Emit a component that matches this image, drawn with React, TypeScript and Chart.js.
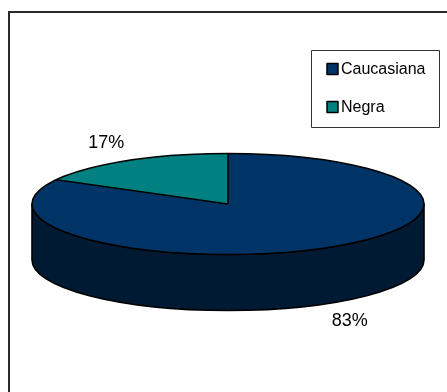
import React, { useEffect, useRef } from "react";
import { Chart, registerables } from "chart.js";

Chart.register(...registerables);

// ---- data ----
const categories: string[] = ["Caucasiana", "Negra"];
const values: number[] = [83, 17];
const topColors: string[] = ["#003366", "#008080"];
const sideColors: string[] = ["#001a33", "#004040"];

// ---- style constants ----
const RY = 50.5; // vertical semi-axis of the tilted top face
const DEPTH = 56; // thickness of the pie
const FONT = "'Liberation Sans', Arial, Helvetica, sans-serif";
const TWO_PI = Math.PI * 2;

const pie3d = {
  id: "pie3d",
  beforeDraw(chart: any) {
    const ctx = chart.ctx;
    ctx.save();
    ctx.fillStyle = "#ffffff";
    ctx.fillRect(0, 0, chart.width, chart.height);
    ctx.strokeStyle = "#2a2a2a";
    ctx.lineWidth = 2;
    ctx.strokeRect(9, 12, 800, 800);
    ctx.restore();
  },
  beforeDatasetsDraw(chart: any) {
    const ctx = chart.ctx;
    const arcs = chart.getDatasetMeta(0).data;
    if (!arcs.length) return;
    const cx = arcs[0].x;
    const cy = arcs[0].y;
    const rx = arcs[0].outerRadius;
    ctx.save();
    ctx.lineWidth = 1.6;
    ctx.strokeStyle = "#000000";
    ctx.lineJoin = "round";
    arcs.forEach((arc: any, i: number) => {
      for (let k = -1; k <= 1; k++) {
        const lo = Math.max(arc.startAngle, k * TWO_PI);
        const hi = Math.min(arc.endAngle, k * TWO_PI + Math.PI);
        if (hi > lo) {
          ctx.beginPath();
          ctx.ellipse(cx, cy, rx, RY, 0, lo, hi);
          ctx.lineTo(cx + rx * Math.cos(hi), cy + RY * Math.sin(hi) + DEPTH);
          ctx.ellipse(cx, cy + DEPTH, rx, RY, 0, hi, lo, true);
          ctx.closePath();
          ctx.fillStyle = sideColors[i % sideColors.length];
          ctx.fill();
          ctx.stroke();
        }
      }
    });
    ctx.restore();
    // squash the circle drawn by Chart.js into the top ellipse
    ctx.save();
    ctx.translate(cx, cy);
    ctx.scale(1, RY / rx);
    ctx.translate(-cx, -cy);
  },
  afterDatasetsDraw(chart: any) {
    const ctx = chart.ctx;
    const arcs = chart.getDatasetMeta(0).data;
    if (!arcs.length) return;
    ctx.restore();
    const cx = arcs[0].x;
    const cy = arcs[0].y;
    const rx = arcs[0].outerRadius;
    ctx.save();
    ctx.lineWidth = 1.6;
    ctx.strokeStyle = "#000000";
    ctx.lineJoin = "round";
    ctx.beginPath();
    ctx.ellipse(cx, cy, rx, RY, 0, 0, TWO_PI);
    ctx.stroke();
    ctx.beginPath();
    arcs.forEach((arc: any) => {
      ctx.moveTo(cx, cy);
      ctx.lineTo(cx + rx * Math.cos(arc.startAngle), cy + RY * Math.sin(arc.startAngle));
    });
    ctx.stroke();

    // percentage labels
    const data = chart.data.datasets[0].data as number[];
    const total = data.reduce((a, b) => a + b, 0);
    ctx.fillStyle = "#000000";
    ctx.font = `18px ${FONT}`;
    ctx.textAlign = "center";
    ctx.textBaseline = "middle";
    arcs.forEach((arc: any, i: number) => {
      const mid = (arc.startAngle + arc.endAngle) / 2;
      const s = Math.sin(mid);
      const x = cx + 1.22 * rx * Math.cos(mid);
      const y = cy + 1.4 * RY * s + (s > 0 ? DEPTH : 0);
      ctx.fillText(`${Math.round((data[i] / total) * 100)}%`, x, y);
    });

    // legend box
    const labels = chart.data.labels as string[];
    const bg = chart.data.datasets[0].backgroundColor as string[];
    ctx.lineWidth = 1;
    ctx.strokeStyle = "#333333";
    ctx.strokeRect(311.5, 50.5, 128, 77);
    ctx.font = `16px ${FONT}`;
    ctx.textAlign = "left";
    labels.forEach((lab, i) => {
      const yc = 69 + i * 38;
      ctx.fillStyle = bg[i];
      ctx.fillRect(327, yc - 5.5, 11, 11);
      ctx.strokeStyle = "#000000";
      ctx.lineWidth = 1.5;
      ctx.strokeRect(327, yc - 5.5, 11, 11);
      ctx.fillStyle = "#000000";
      ctx.fillText(lab, 341, yc + 1);
    });
    ctx.restore();
  },
};

export default function App() {
  const ref = useRef<HTMLCanvasElement | null>(null);
  useEffect(() => {
    if (!ref.current) return;
    const chart = new Chart(ref.current, {
      type: "pie",
      data: {
        labels: categories,
        datasets: [
          {
            data: values,
            backgroundColor: topColors,
            borderWidth: 0,
            radius: 196,
            clip: false,
          } as any,
        ],
      },
      options: {
        responsive: false,
        animation: false,
        events: [],
        layout: { padding: { left: 32, right: 23, top: 154, bottom: 138 } },
        plugins: {
          legend: { display: false },
          tooltip: { enabled: false },
        },
      },
      plugins: [pie3d],
    });
    return () => chart.destroy();
  }, []);
  return (
    <div style={{ position: "fixed", left: 0, top: 0, width: 447, height: 392, background: "#fff" }}>
      <canvas ref={ref} width={447} height={392} style={{ display: "block" }} />
    </div>
  );
}
